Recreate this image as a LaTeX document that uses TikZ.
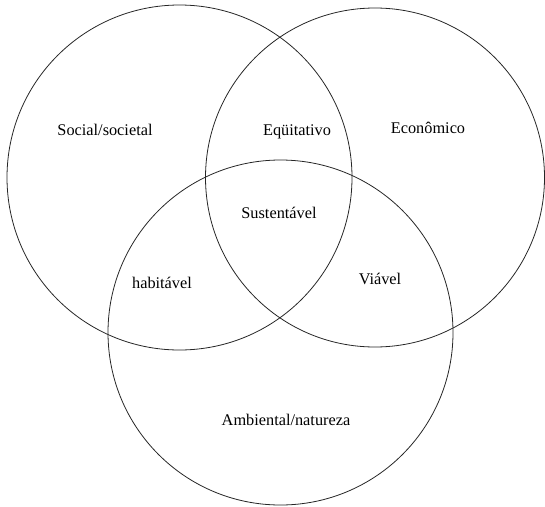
\documentclass[tikz,border=0pt]{standalone}
\usepackage{fontspec}
\setmainfont{Liberation Serif}
\begin{document}
\begin{tikzpicture}[x=1pt,y=-1pt,
  ring/.style={draw=black!85,line width=0.8pt},
  lbl/.style={font=\fontsize{16.3}{19}\selectfont,inner sep=0pt}]
\useasboundingbox (0,0) rectangle (545,506);
\draw[ring] (179.5,177.5) circle[radius=172.5];
\draw[ring] (375,177.5) circle[radius=169.5];
\draw[ring] (280.5,332.5) circle[radius=172.5];
\node[lbl] (soc) at (105,130) {Social/societal};
\node[lbl] (eq) at (297,132) {Eqüitativo};
\node[lbl] (eco) at (428,128) {Econômico};
\node[lbl] (sus) at (279,213) {Sustentável};
\node[lbl] (hab) at (162,283) {habitável};
\node[lbl] (via) at (380,279) {Viável};
\node[lbl] (amb) at (286,420) {Ambiental/natureza};
\end{tikzpicture}
\end{document}
